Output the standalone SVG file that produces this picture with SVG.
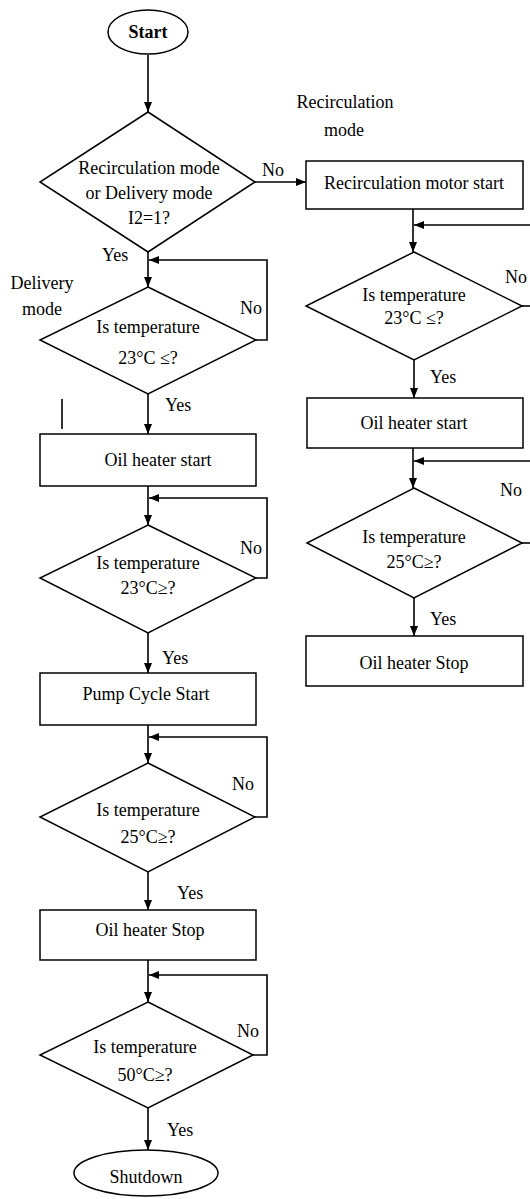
<svg xmlns="http://www.w3.org/2000/svg" width="530" height="1199" viewBox="0 0 530 1199">
<style>
.s{fill:#fff;stroke:#000;stroke-width:1.5}
.c{fill:none;stroke:#000;stroke-width:1.6}
text{font-family:"Liberation Serif","Times New Roman",serif;font-size:18px;fill:#000}
.m{text-anchor:middle}
.b{font-weight:bold}
</style>
<defs>
<marker id="ah" viewBox="0 0 10 8" refX="10" refY="4" markerWidth="10" markerHeight="8" markerUnits="userSpaceOnUse" orient="auto">
<path d="M0,0 L10,4 L0,8 z" fill="#000"/>
</marker>
</defs>
<g id="connectors">
<path class="c" d="M148,55 V112" marker-end="url(#ah)"/>
<path class="c" d="M255,182 H306" marker-end="url(#ah)"/>
<path class="c" d="M148,252 V287" marker-end="url(#ah)"/>
<path class="c" d="M256,340 H267 V260 H149" marker-end="url(#ah)"/>
<path class="c" d="M148,394 V434" marker-end="url(#ah)"/>
<path class="c" d="M148,486 V525" marker-end="url(#ah)"/>
<path class="c" d="M256,578 H267 V498 H149" marker-end="url(#ah)"/>
<path class="c" d="M148,633 V673" marker-end="url(#ah)"/>
<path class="c" d="M148,725 V763" marker-end="url(#ah)"/>
<path class="c" d="M255,817 H267 V737 H149" marker-end="url(#ah)"/>
<path class="c" d="M148,872 V910" marker-end="url(#ah)"/>
<path class="c" d="M148,960 V1002" marker-end="url(#ah)"/>
<path class="c" d="M253,1055 H267 V975 H149" marker-end="url(#ah)"/>
<path class="c" d="M148,1108 V1150" marker-end="url(#ah)"/>
<path class="c" d="M413,209 V252" marker-end="url(#ah)"/>
<path class="c" d="M531,225 H414" marker-end="url(#ah)"/>
<path class="c" d="M522,306 H531"/>
<path class="c" d="M414,360 V398" marker-end="url(#ah)"/>
<path class="c" d="M413,448 V488" marker-end="url(#ah)"/>
<path class="c" d="M531,461 H414" marker-end="url(#ah)"/>
<path class="c" d="M522,543 H531"/>
<path class="c" d="M414,598 V636" marker-end="url(#ah)"/>
<path class="c" d="M62,399 V429"/>
<text x="262" y="176">No</text>
<text x="102" y="261">Yes</text>
<text x="240" y="314">No</text>
<text x="165" y="411">Yes</text>
<text x="240" y="554">No</text>
<text x="162" y="664">Yes</text>
<text x="232" y="790">No</text>
<text x="177" y="899">Yes</text>
<text x="237" y="1037">No</text>
<text x="167" y="1136">Yes</text>
<text x="505" y="283">No</text>
<text x="430" y="383">Yes</text>
<text x="500" y="496">No</text>
<text x="430" y="625">Yes</text>
</g>
<g id="labels">
<text class="m" x="42" y="289">Delivery</text>
<text class="m" x="42" y="315">mode</text>
<text class="m" x="345" y="108">Recirculation</text>
<text class="m" x="344" y="136">mode</text>
</g>
<g id="start">
<ellipse class="s" cx="148" cy="32" rx="40" ry="22"/>
<text class="m b" x="148" y="38">Start</text>
</g>
<g id="d1">
<polygon class="s" points="148,112 255,182 148,252 40,182"/>
<text class="m" x="149" y="174">Recirculation mode</text>
<text class="m" x="149" y="199">or Delivery mode</text>
<text class="m" x="149" y="224">I2=1?</text>
</g>
<g id="d2">
<polygon class="s" points="148,287 256,340 148,394 40,340"/>
<text class="m" x="148" y="333">Is temperature</text>
<text class="m" x="148" y="364">23°C ≤?</text>
</g>
<g id="b1">
<rect class="s" x="40" y="434" width="216" height="52"/>
<text class="m" x="158" y="466">Oil heater  start</text>
</g>
<g id="d3">
<polygon class="s" points="148,525 256,578 148,633 40,578"/>
<text class="m" x="148" y="569">Is temperature</text>
<text class="m" x="148" y="594">23°C≥?</text>
</g>
<g id="b2">
<rect class="s" x="40" y="673" width="216" height="52"/>
<text class="m" x="146" y="700">Pump Cycle Start</text>
</g>
<g id="d4">
<polygon class="s" points="148,763 255,817 148,872 40,817"/>
<text class="m" x="148" y="816">Is temperature</text>
<text class="m" x="148" y="843">25°C≥?</text>
</g>
<g id="b3">
<rect class="s" x="40" y="910" width="216" height="50"/>
<text class="m" x="150" y="936">Oil heater  Stop</text>
</g>
<g id="d5">
<polygon class="s" points="148,1002 253,1055 148,1108 40,1055"/>
<text class="m" x="145" y="1053">Is temperature</text>
<text class="m" x="145" y="1081">50°C≥?</text>
</g>
<g id="shutdown">
<ellipse class="s" cx="146" cy="1173" rx="72" ry="23"/>
<text class="m" x="146" y="1183">Shutdown</text>
</g>
<g id="r1">
<rect class="s" x="306" y="161" width="217" height="48"/>
<text class="m" x="414" y="189">Recirculation  motor start</text>
</g>
<g id="rd1">
<polygon class="s" points="414,252 522,306 414,360 306,306"/>
<text class="m" x="414" y="301">Is temperature</text>
<text class="m" x="414" y="324">23°C ≤?</text>
</g>
<g id="r2">
<rect class="s" x="307" y="398" width="216" height="50"/>
<text class="m" x="414" y="429">Oil heater start</text>
</g>
<g id="rd2">
<polygon class="s" points="414,488 522,543 414,598 307,543"/>
<text class="m" x="414" y="543">Is temperature</text>
<text class="m" x="414" y="568">25°C≥?</text>
</g>
<g id="r3">
<rect class="s" x="306" y="636" width="217" height="50"/>
<text class="m" x="414" y="669">Oil heater  Stop</text>
</g>
</svg>
